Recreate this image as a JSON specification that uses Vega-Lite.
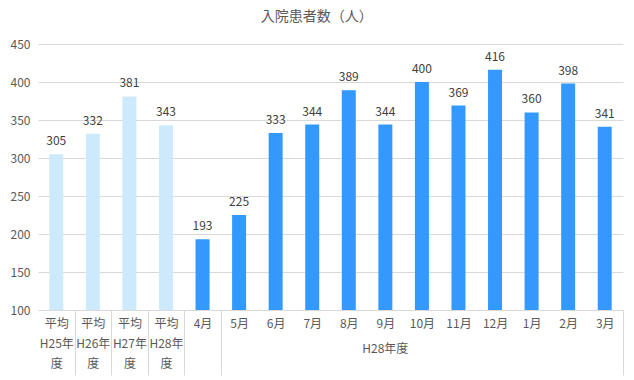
{
  "$schema": "https://vega.github.io/schema/vega-lite/v6.json",
  "width": 585,
  "height": 266,
  "autosize": {"type": "none"},
  "padding": {"left": 38, "top": 44, "right": 11, "bottom": 70},
  "background": "white",
  "title": {"text": "入院患者数（人）", "fontSize": 14, "font": "Noto Sans CJK JP", "fontWeight": "normal", "color": "#595959", "offset": 14, "anchor": "middle", "frame": "bounds"},
  "config": {"view": {"stroke": null}, "font": "Noto Sans CJK JP"},
  "data": {"values": [
    {"label": "平均 H25年度", "kind": "平均", "value": 305},
    {"label": "平均 H26年度", "kind": "平均", "value": 332},
    {"label": "平均 H27年度", "kind": "平均", "value": 381},
    {"label": "平均 H28年度", "kind": "平均", "value": 343},
    {"label": "4月", "kind": "月別", "value": 193},
    {"label": "5月", "kind": "月別", "value": 225},
    {"label": "6月", "kind": "月別", "value": 333},
    {"label": "7月", "kind": "月別", "value": 344},
    {"label": "8月", "kind": "月別", "value": 389},
    {"label": "9月", "kind": "月別", "value": 344},
    {"label": "10月", "kind": "月別", "value": 400},
    {"label": "11月", "kind": "月別", "value": 369},
    {"label": "12月", "kind": "月別", "value": 416},
    {"label": "1月", "kind": "月別", "value": 360},
    {"label": "2月", "kind": "月別", "value": 398},
    {"label": "3月", "kind": "月別", "value": 341}
  ]},
  "encoding": {
    "y": {
      "field": "value", "type": "quantitative",
      "scale": {"domain": [100, 450], "zero": false},
      "axis": {"title": null, "values": [100, 150, 200, 250, 300, 350, 400, 450], "grid": true, "gridColor": "#d9d9d9", "domain": false, "ticks": false, "labelPadding": 8, "labelColor": "#595959", "labelFontSize": 12, "labelFlush": false}
    }
  },
  "layer": [
    {
      "mark": {"type": "bar", "width": 14, "clip": true},
      "encoding": {
        "x": {
          "field": "label", "type": "nominal", "sort": null,
          "scale": {"paddingInner": 0, "paddingOuter": 0},
          "axis": {
            "orient": "bottom",
            "title": null, "labelAngle": 0,
            "labelExpr": "(isString(datum.value) && indexof(datum.value, ' ') > 0) ? [split(datum.value, ' ')[0], substring(split(datum.value, ' ')[1], 0, 4), substring(split(datum.value, ' ')[1], 4)] : datum.label",
            "labelBaseline": "top", "labelLineHeight": 20, "labelPadding": -57,
            "labelColor": "#595959", "labelFontSize": 12,
            "domainColor": "#d9d9d9", "tickBand": "extent", "tickSize": 65,
            "tickColor": {"condition": {"test": "isString(datum.value) && indexof(['平均 H25年度','平均 H26年度','平均 H27年度','平均 H28年度','4月'], datum.value) >= 0", "value": "#d9d9d9"}, "value": "transparent"}
          }
        },
        "color": {"field": "kind", "type": "nominal", "scale": {"domain": ["平均", "月別"], "range": ["#cceafc", "#3399ff"]}, "legend": null}
      }
    },
    {
      "mark": {"type": "text", "baseline": "bottom", "dy": -6, "fontSize": 12, "color": "#404040"},
      "encoding": {
        "x": {
          "field": "label", "type": "nominal", "sort": null,
          "axis": {
            "orient": "bottom",
            "title": null, "labelAngle": 0, "bandPosition": 1,
            "labelExpr": "datum.value == '9月' ? 'H28年度' : ''",
            "labelBaseline": "top", "labelPadding": -32, "labelColor": "#595959", "labelFontSize": 12,
            "ticks": true, "tickSize": 65,
            "tickColor": {"condition": {"test": "datum.value == '3月'", "value": "#d9d9d9"}, "value": "transparent"},
            "domain": false, "grid": false
          }
        },
        "text": {"field": "value", "type": "quantitative"}
      }
    }
  ],
  "resolve": {"axis": {"x": "independent"}}
}
